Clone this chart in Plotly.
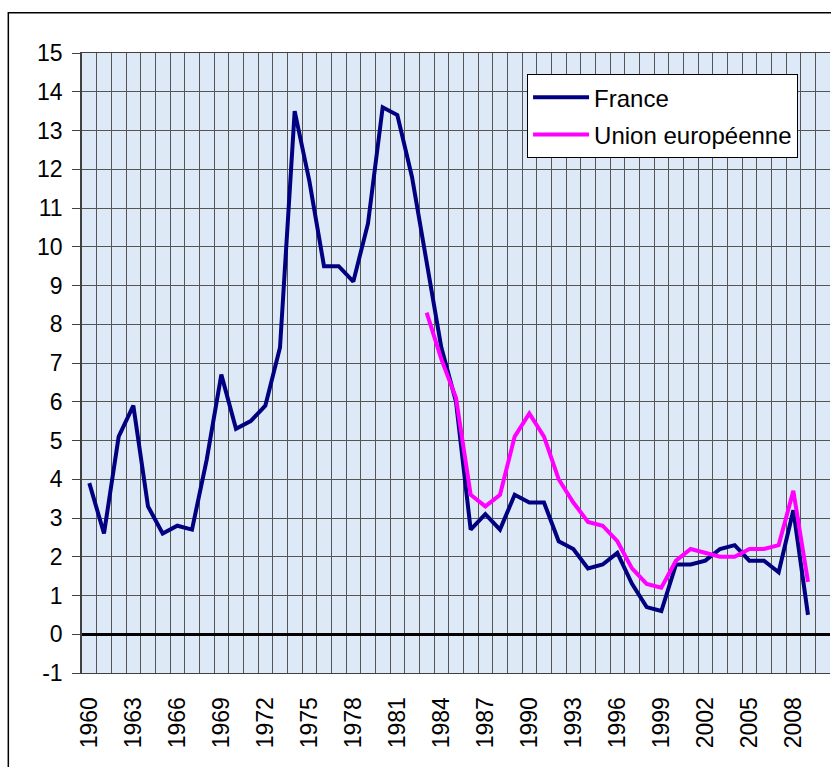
import plotly.graph_objects as go

years = list(range(1960, 2011))
france = [3.9, 2.6, 5.1, 5.9, 3.3, 2.6, 2.8, 2.7, 4.5, 6.7,
          5.3, 5.5, 5.9, 7.4, 13.5, 11.7, 9.5, 9.5, 9.1, 10.6,
          13.6, 13.4, 11.8, 9.6, 7.4, 6.0, 2.7, 3.1, 2.7, 3.6,
          3.4, 3.4, 2.4, 2.2, 1.7, 1.8, 2.1, 1.3, 0.7, 0.6,
          1.8, 1.8, 1.9, 2.2, 2.3, 1.9, 1.9, 1.6, 3.2, 0.5, None]
ue = [None] * 23 + [8.3, 7.1, 6.1, 3.6, 3.3, 3.6, 5.1,
                    5.7, 5.1, 4.0, 3.4, 2.9, 2.8, 2.4, 1.7, 1.3, 1.2,
                    1.9, 2.2, 2.1, 2.0, 2.0, 2.2, 2.2, 2.3, 3.7, 1.35, None]
tick_years = list(range(1960, 2011, 3))
y_ticks = list(range(-1, 16))
y_labels = [str(v) for v in y_ticks]

FONT = "Liberation Sans, Arial, sans-serif"

fig = go.Figure()
fig.add_trace(go.Scatter(x=years, y=france, mode="lines", name="France",
                         line=dict(color="#000080", width=4), legendgroup="a"))
fig.add_trace(go.Scatter(x=years, y=ue, mode="lines", name="Union européenne",
                         line=dict(color="#FF00FF", width=4), legendgroup="b"))

fig.update_layout(
    width=831, height=767,
    margin=dict(l=82, r=1, t=53, b=94),
    paper_bgcolor="white",
    plot_bgcolor="#dde9f6",
    font=dict(family=FONT, color="black", size=23),
    showlegend=True,
    legend=dict(x=0.595, y=0.966, xanchor="left", yanchor="top",
                bgcolor="white", bordercolor="black", borderwidth=1,
                font=dict(size=24, family=FONT), tracegroupgap=3,
                itemwidth=56),
    xaxis=dict(range=[1959.5, 2010.5], tickmode="array", tickvals=tick_years,
               ticktext=[str(t) for t in tick_years], tickangle=-90,
               showgrid=False, zeroline=False, ticks="", ticklen=0,
               ticklabelstandoff=14,
               showline=True, linecolor="#404040", linewidth=1, mirror=True,
               minor=dict(tickmode="linear", tick0=1959.5, dtick=1, showgrid=True,
                          gridcolor="#555555", gridwidth=1, ticks=""),
               tickfont=dict(size=23), automargin=False),
    yaxis=dict(range=[-1, 15], tickmode="array", tickvals=y_ticks, ticktext=y_labels,
               showgrid=True, gridcolor="#555555", gridwidth=1,
               zeroline=True, zerolinecolor="black", zerolinewidth=2.5,
               ticks="outside", ticklen=8, tickcolor="#404040",
               ticklabelstandoff=5,
               showline=True, linecolor="#404040", linewidth=1.5, mirror=False,
               tickfont=dict(size=23), automargin=False),
    shapes=[dict(type="rect", xref="paper", yref="paper",
                 x0=-0.0985, x1=1.02, y0=-0.2, y1=1.065,
                 line=dict(color="black", width=1.5), fillcolor="rgba(0,0,0,0)",
                 layer="below")],
)

fig.write_html("out.html",
               config={"displayModeBar": False},
               post_script="document.body.style.margin='0';"
                           "document.body.style.overflow='hidden';")
